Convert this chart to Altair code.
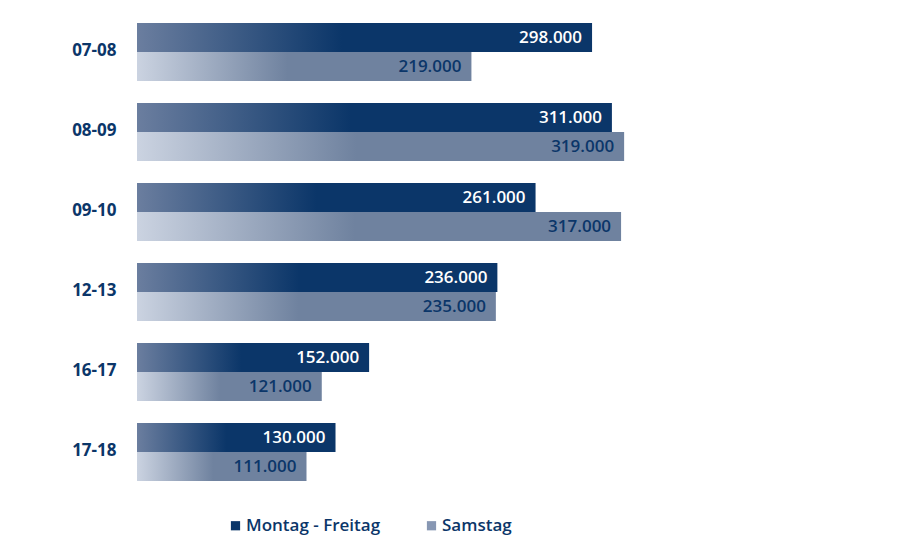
import altair as alt
import pandas as pd

periods = ["07-08", "08-09", "09-10", "12-13", "16-17", "17-18"]
weekday = [298000, 311000, 261000, 236000, 152000, 130000]
saturday = [219000, 319000, 317000, 235000, 121000, 111000]
series = ["Montag - Freitag", "Samstag"]

rows = []
for p, w, s in zip(periods, weekday, saturday):
    rows.append({"period": p, "series": series[0], "value": w})
    rows.append({"period": p, "series": series[1], "value": s})
df = pd.DataFrame(rows)

DARK = "#0b3669"
FONT = "Open Sans"

grad_wd = alt.LinearGradient(
    gradient="linear", x1=0, x2=1, y1=0, y2=0,
    stops=[alt.GradientStop(color="#6b7e9f", offset=0),
           alt.GradientStop(color=DARK, offset=0.45),
           alt.GradientStop(color=DARK, offset=1)])
grad_sa = alt.LinearGradient(
    gradient="linear", x1=0, x2=1, y1=0, y2=0,
    stops=[alt.GradientStop(color="#cbd3e1", offset=0),
           alt.GradientStop(color="#6f829f", offset=0.45),
           alt.GradientStop(color="#6f829f", offset=1)])

y = alt.Y("period:N", sort=periods,
          scale=alt.Scale(paddingInner=0.275, paddingOuter=0.1375),
          axis=alt.Axis(title=None, ticks=False, domain=False, labelPadding=21,
                        labelFontSize=17, labelFont=FONT, labelFontWeight="bold",
                        labelColor=DARK, labelBaseline="middle", labelOffset=-1))
x = alt.X("value:Q", scale=alt.Scale(domain=[0, 458400]), axis=None)
yoff = alt.YOffset("series:N", sort=series, scale=alt.Scale(paddingInner=0, paddingOuter=0))

base = alt.Chart(df).transform_calculate(
    label="replace(format(datum.value, ','), ',', '.')"
).encode(y=y, x=x, yOffset=yoff)

is_wd = alt.datum.series == series[0]

bars = base.mark_bar().encode(
    fill=alt.condition(is_wd, alt.value(grad_wd), alt.value(grad_sa))
)

texts = base.mark_text(align="right", baseline="middle", dx=-10, fontSize=17,
                       font=FONT, fontWeight=600).encode(
    text="label:N",
    color=alt.condition(is_wd, alt.value("white"), alt.value(DARK)),
)

ghost = base.mark_square(opacity=0).encode(
    color=alt.Color("series:N",
                    scale=alt.Scale(domain=series, range=[DARK, "#8797b3"]),
                    legend=alt.Legend(orient="none", legendX=90, legendY=505,
                                      direction="horizontal", title=None,
                                      symbolType="square", symbolSize=85,
                                      symbolOpacity=1, symbolStrokeWidth=0,
                                      labelFontSize=17, labelFont=FONT,
                                      labelFontWeight=600, labelColor=DARK,
                                      labelOffset=2, columnPadding=42))
)

chart = alt.layer(bars, texts, ghost).properties(
    width=700, height=480,
    autosize=alt.AutoSizeParams(type="none"),
    padding={"left": 129, "top": 4, "right": 55, "bottom": 60},
    background="white",
).configure_view(stroke=None)

chart.save("out.html", embed_options={"renderer": "svg", "actions": False})
